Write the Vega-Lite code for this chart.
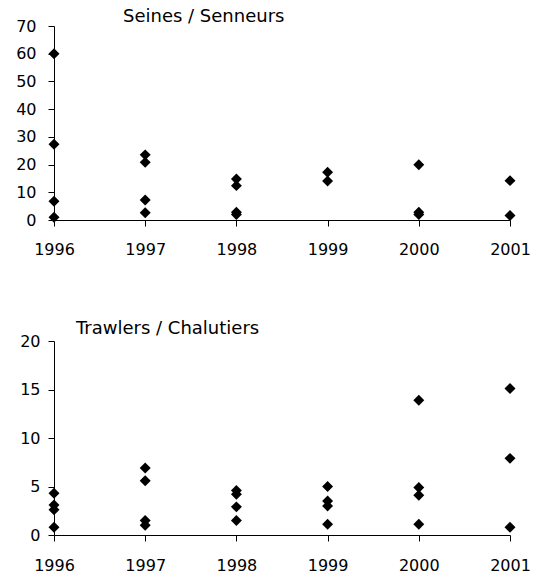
{
  "$schema": "https://vega.github.io/schema/vega-lite/v6.json",
  "padding": {"left": 14, "top": 8, "right": 0, "bottom": 0},
  "spacing": 60,
  "background": "white",
  "config": {
    "view": {"stroke": null},
    "font": "DejaVu Sans",
    "axis": {
      "grid": false,
      "domainColor": "#000",
      "tickColor": "#000",
      "labelColor": "#000",
      "labelFont": "DejaVu Sans",
      "labelFontSize": 16,
      "labelFlush": false,
      "labelOverlap": false,
      "tickSize": 6,
      "title": null
    },
    "title": {"font": "DejaVu Sans", "fontSize": 18, "fontWeight": "normal", "color": "#000"}
  },
  "datasets": {
    "seines": [
      {"year": 1996, "value": 60}, {"year": 1996, "value": 27.3}, {"year": 1996, "value": 6.8}, {"year": 1996, "value": 1},
      {"year": 1997, "value": 23.5}, {"year": 1997, "value": 20.8}, {"year": 1997, "value": 7.2}, {"year": 1997, "value": 2.6},
      {"year": 1998, "value": 14.8}, {"year": 1998, "value": 12.4}, {"year": 1998, "value": 2.8}, {"year": 1998, "value": 2.0},
      {"year": 1999, "value": 17.2}, {"year": 1999, "value": 14.1},
      {"year": 2000, "value": 19.9}, {"year": 2000, "value": 2.8}, {"year": 2000, "value": 2.0},
      {"year": 2001, "value": 14.2}, {"year": 2001, "value": 1.6}
    ],
    "trawlers": [
      {"year": 1996, "value": 4.3}, {"year": 1996, "value": 3.1}, {"year": 1996, "value": 2.6}, {"year": 1996, "value": 0.8},
      {"year": 1997, "value": 6.9}, {"year": 1997, "value": 5.6}, {"year": 1997, "value": 1.5}, {"year": 1997, "value": 1.0},
      {"year": 1998, "value": 4.6}, {"year": 1998, "value": 4.2}, {"year": 1998, "value": 2.9}, {"year": 1998, "value": 1.5},
      {"year": 1999, "value": 5.0}, {"year": 1999, "value": 3.5}, {"year": 1999, "value": 3.0}, {"year": 1999, "value": 1.1},
      {"year": 2000, "value": 13.9}, {"year": 2000, "value": 4.9}, {"year": 2000, "value": 4.1}, {"year": 2000, "value": 1.1},
      {"year": 2001, "value": 15.1}, {"year": 2001, "value": 7.9}, {"year": 2001, "value": 0.8}
    ]
  },
  "vconcat": [
    {
      "title": {"text": "Seines / Senneurs", "anchor": "start", "frame": "group", "dx": 69, "offset": -22, "baseline": "alphabetic"},
      "width": 456,
      "height": 194,
      "data": {"name": "seines"},
      "mark": {"type": "point", "shape": "diamond", "filled": true, "size": 120, "color": "#000", "opacity": 1},
      "encoding": {
        "x": {
          "field": "year", "type": "quantitative",
          "scale": {"domain": [1996, 2001], "nice": false, "zero": false},
          "axis": {"values": [1996, 1997, 1998, 1999, 2000, 2001], "format": "d", "labelPadding": 15, "minExtent": 40, "maxExtent": 40}
        },
        "y": {
          "field": "value", "type": "quantitative",
          "scale": {"domain": [0, 70], "nice": false},
          "axis": {"values": [0, 10, 20, 30, 40, 50, 60, 70], "labelPadding": 12, "minExtent": 40, "maxExtent": 40}
        }
      }
    },
    {
      "title": {"text": "Trawlers / Chalutiers", "anchor": "start", "frame": "group", "dx": 22, "offset": -19, "baseline": "alphabetic"},
      "width": 456,
      "height": 194,
      "data": {"name": "trawlers"},
      "mark": {"type": "point", "shape": "diamond", "filled": true, "size": 120, "color": "#000", "opacity": 1},
      "encoding": {
        "x": {
          "field": "year", "type": "quantitative",
          "scale": {"domain": [1996, 2001], "nice": false, "zero": false},
          "axis": {"values": [1996, 1997, 1998, 1999, 2000, 2001], "format": "d", "labelPadding": 16, "minExtent": 40, "maxExtent": 40}
        },
        "y": {
          "field": "value", "type": "quantitative",
          "scale": {"domain": [0, 20], "nice": false},
          "axis": {"values": [0, 5, 10, 15, 20], "labelPadding": 8, "minExtent": 40, "maxExtent": 40}
        }
      }
    }
  ]
}
